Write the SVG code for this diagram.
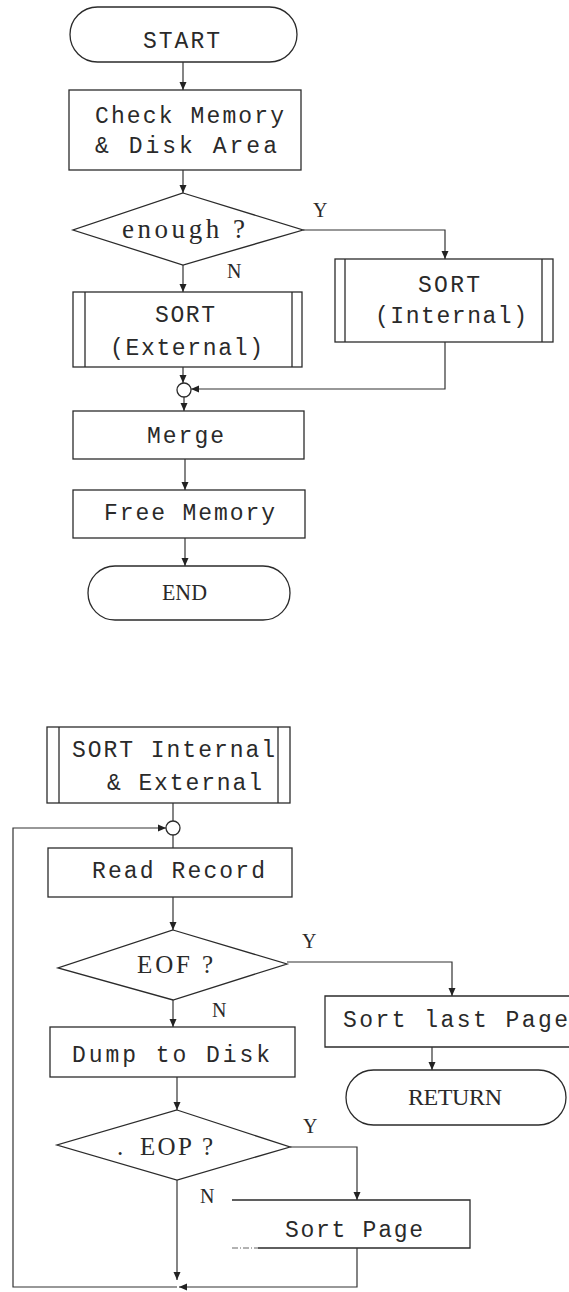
<svg xmlns="http://www.w3.org/2000/svg" width="569" height="1292" viewBox="0 0 569 1292">
  <style>
    .shape { fill: none; stroke: #2b2b2b; stroke-width: 1.3; }
    .faint { fill: none; stroke: #666; stroke-width: 1; stroke-dasharray: 6 2 1 2; }
    .conn { fill: none; stroke: #333; stroke-width: 1.2; }
    .tw { font-family: "Liberation Mono", "DejaVu Sans Mono", monospace; font-size: 23px; fill: #2a2a2a; }
    .sf { font-family: "Liberation Serif", "DejaVu Serif", serif; font-size: 25px; fill: #2a2a2a; }
    .lbl { font-family: "Liberation Serif", "DejaVu Serif", serif; font-size: 20px; fill: #2a2a2a; }
  </style>
  <defs>
    <marker id="arrow" viewBox="0 0 8 8" refX="8" refY="4" markerWidth="8" markerHeight="8" markerUnits="userSpaceOnUse" orient="auto">
      <path d="M0,0.5 L8,4 L0,7.5 z" fill="#222"/>
    </marker>
  </defs>
  <rect width="569" height="1292" fill="#fff"/>

  <!-- main flow -->
  <g id="start">
    <rect class="shape" x="70" y="7" width="227" height="55" rx="27.5"/>
    <text class="tw" x="143" y="48" textLength="77" lengthAdjust="spacing">START</text>
  </g>
  <g id="check-memory">
    <rect class="shape" x="69" y="90" width="232" height="80"/>
    <text class="tw" x="95" y="123" textLength="189" lengthAdjust="spacing">Check Memory</text>
    <text class="tw" x="95" y="153" textLength="182" lengthAdjust="spacing">&amp; Disk Area</text>
  </g>
  <g id="enough">
    <polygon class="shape" points="183,193 303,230 183,265 73,230"/>
    <text class="sf" x="122" y="238" style="font-size:27px" textLength="123" lengthAdjust="spacing">enough ?</text>
  </g>
  <g id="sort-external">
    <rect class="shape" x="73" y="292" width="229" height="75"/>
    <line class="shape" x1="85" y1="292" x2="85" y2="367"/>
    <line class="shape" x1="292" y1="292" x2="292" y2="367"/>
    <text class="tw" x="155" y="322" textLength="60" lengthAdjust="spacing">SORT</text>
    <text class="tw" x="110" y="355" textLength="153" lengthAdjust="spacing">(External)</text>
  </g>
  <g id="sort-internal">
    <rect class="shape" x="335" y="259" width="218" height="83"/>
    <line class="shape" x1="345" y1="259" x2="345" y2="342"/>
    <line class="shape" x1="542" y1="259" x2="542" y2="342"/>
    <text class="tw" x="418" y="292" textLength="62" lengthAdjust="spacing">SORT</text>
    <text class="tw" x="375" y="323" textLength="152" lengthAdjust="spacing">(Internal)</text>
  </g>
  <g id="join-1">
    <circle class="shape" cx="184" cy="390" r="7"/>
  </g>
  <g id="merge">
    <rect class="shape" x="73" y="411" width="231" height="48"/>
    <text class="tw" x="147" y="443" textLength="77" lengthAdjust="spacing">Merge</text>
  </g>
  <g id="free-memory">
    <rect class="shape" x="73" y="490" width="232" height="48"/>
    <text class="tw" x="104" y="520" textLength="171" lengthAdjust="spacing">Free Memory</text>
  </g>
  <g id="end">
    <rect class="shape" x="88" y="566" width="202" height="54" rx="27"/>
    <text class="sf" x="162" y="600" style="font-size:23px" textLength="45" lengthAdjust="spacingAndGlyphs">END</text>
  </g>

  <!-- sort routine -->
  <g id="sort-routine">
    <rect class="shape" x="47" y="727" width="243" height="76"/>
    <line class="shape" x1="59" y1="727" x2="59" y2="803"/>
    <line class="shape" x1="278" y1="727" x2="278" y2="803"/>
    <text class="tw" x="72" y="757" textLength="203" lengthAdjust="spacing">SORT Internal</text>
    <text class="tw" x="107" y="790" textLength="155" lengthAdjust="spacing">&amp; External</text>
  </g>
  <g id="join-2">
    <circle class="shape" cx="173" cy="828" r="7"/>
  </g>
  <g id="read-record">
    <rect class="shape" x="48" y="848" width="244" height="49"/>
    <text class="tw" x="92" y="878" textLength="173" lengthAdjust="spacing">Read Record</text>
  </g>
  <g id="eof">
    <polygon class="shape" points="173,930 287,964 173,1000 58,968"/>
    <text class="sf" x="137" y="973" textLength="76" lengthAdjust="spacing">EOF ?</text>
  </g>
  <g id="sort-last-page">
    <path class="shape" d="M569,996 H325 V1047 H569"/>
    <text class="tw" x="343" y="1027" textLength="225" lengthAdjust="spacing">Sort last Page</text>
  </g>
  <g id="return">
    <rect class="shape" x="346" y="1070" width="220" height="55" rx="27.5"/>
    <text class="sf" x="408" y="1105" style="font-size:24px" textLength="94" lengthAdjust="spacing">RETURN</text>
  </g>
  <g id="dump-to-disk">
    <rect class="shape" x="50" y="1027" width="245" height="50"/>
    <text class="tw" x="72" y="1062" textLength="198" lengthAdjust="spacing">Dump to Disk</text>
  </g>
  <g id="eop">
    <polygon class="shape" points="177,1110 290,1147 177,1180 57,1145"/>
    <text class="sf" x="117" y="1155">.</text>
    <text class="sf" x="140" y="1155" textLength="73" lengthAdjust="spacing">EOP ?</text>
  </g>
  <g id="sort-page">
    <path class="shape" d="M232,1200 H470 V1248 H258"/>
    <line class="faint" x1="232" y1="1248" x2="258" y2="1248"/>
    <text class="tw" x="285" y="1237" textLength="138" lengthAdjust="spacing">Sort Page</text>
  </g>

  <!-- connectors -->
  <g id="connectors">
    <path class="conn" d="M183,62 V90" marker-end="url(#arrow)"/>
    <path class="conn" d="M183,170 V193" marker-end="url(#arrow)"/>
    <path class="conn" d="M183,265 V292" marker-end="url(#arrow)"/>
    <path class="conn" d="M303,230 H445 V259" marker-end="url(#arrow)"/>
    <path class="conn" d="M183,367 V383" marker-end="url(#arrow)"/>
    <path class="conn" d="M445,342 V389 H191" marker-end="url(#arrow)"/>
    <path class="conn" d="M184,397 V411" marker-end="url(#arrow)"/>
    <path class="conn" d="M185,459 V490" marker-end="url(#arrow)"/>
    <path class="conn" d="M185,538 V566" marker-end="url(#arrow)"/>

    <path class="conn" d="M173,803 V821"/>
    <path class="conn" d="M177,1287 H13 V828 H166" marker-end="url(#arrow)"/>
    <path class="conn" d="M173,835 V848"/>
    <path class="conn" d="M173,897 V930" marker-end="url(#arrow)"/>
    <path class="conn" d="M173,1000 V1027" marker-end="url(#arrow)"/>
    <path class="conn" d="M287,962 H452 V996" marker-end="url(#arrow)"/>
    <path class="conn" d="M432,1047 V1070" marker-end="url(#arrow)"/>
    <path class="conn" d="M177,1077 V1110" marker-end="url(#arrow)"/>
    <path class="conn" d="M290,1147 H357 V1200" marker-end="url(#arrow)"/>
    <path class="conn" d="M177,1180 V1280" marker-end="url(#arrow)"/>
    <path class="conn" d="M357,1248 V1287 H179" marker-end="url(#arrow)"/>

    <text class="lbl" x="313" y="217">Y</text>
    <text class="lbl" x="227" y="278">N</text>
    <text class="lbl" x="302" y="948">Y</text>
    <text class="lbl" x="212" y="1017">N</text>
    <text class="lbl" x="303" y="1133">Y</text>
    <text class="lbl" x="200" y="1203">N</text>
  </g>
</svg>
